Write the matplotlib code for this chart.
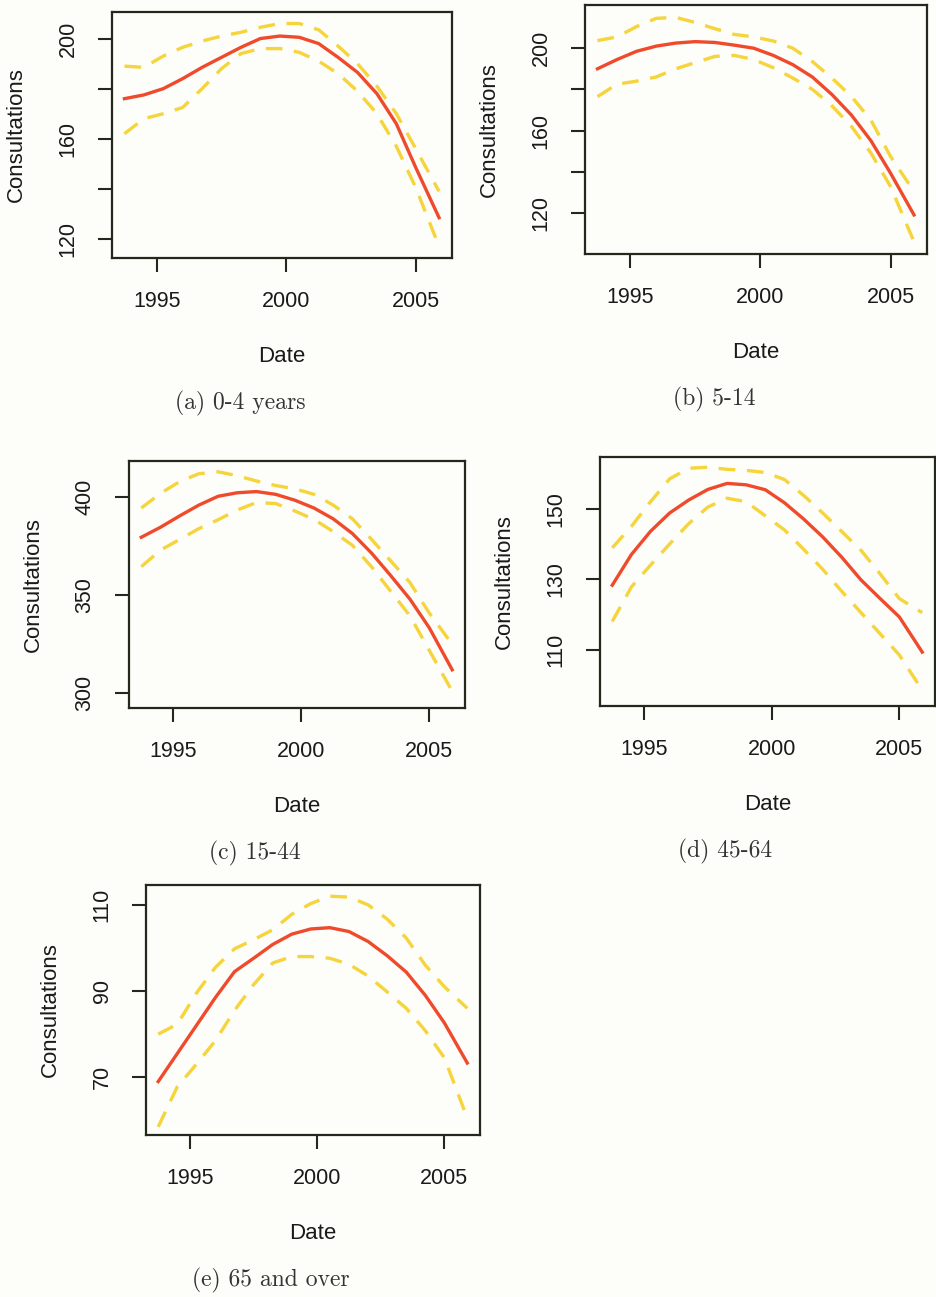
import matplotlib
matplotlib.use("Agg")
import matplotlib.pyplot as plt

years = [1993.75, 1994.5, 1995.25, 1996.0, 1996.75, 1997.5, 1998.25, 1999.0, 1999.75,
         2000.5, 2001.25, 2002.0, 2002.75, 2003.5, 2004.25, 2005.0, 2005.9]

# (a) 0-4 years
a_fit = [176, 177.5, 180, 184, 188.5, 192.5, 196.5, 200, 201, 200.5, 198, 192.5, 186.5, 178, 166, 148.5, 128.5]
a_up = [189, 188.5, 193, 196.5, 199, 201, 202.5, 204.5, 206, 206, 203.5, 197, 190, 181, 170, 156, 139]
a_lo = [162, 168, 170, 172.5, 180, 188, 194, 196, 196, 194.5, 191, 186, 179, 170, 157, 140.5, 117]

# (b) 5-14
b_fit = [190, 194.5, 198.5, 201, 202.5, 203.2, 202.8, 201.5, 200, 196.5, 192, 186, 177.5, 167.5, 155, 139.3, 119]
b_up = [203.7, 205.5, 210.5, 214.5, 215, 212.5, 209.5, 206.7, 205.5, 203.5, 200, 193.5, 185.5, 176.5, 165, 147.4, 130.4]
b_lo = [176.5, 182.5, 184, 186, 190, 193, 196, 196.5, 194.5, 190.5, 185.5, 180, 172, 162, 149, 132.8, 106]

# (c) 15-44
c_fit = [379.6, 384.7, 390.5, 396, 400.5, 402.3, 402.9, 401.5, 398.5, 394.5, 389, 381.5, 371.5, 360, 348, 333.5, 312]
c_up = [394.5, 402, 408, 412, 413, 411, 408.3, 406, 404.3, 401.5, 396, 389, 378.5, 367.5, 356.5, 341, 325]
c_lo = [364.6, 373, 378.5, 384, 388.5, 393.5, 397.3, 396.8, 393, 388.7, 382.5, 375.5, 364.5, 352, 339.5, 322, 301]

# (d) 45-64
d_fit = [128.3, 137, 143.6, 148.8, 152.5, 155.5, 157.2, 156.8, 155.4, 151.7, 147.1, 142, 136.2, 129.8, 124.5, 119.3, 109.3]
d_up = [138.9, 145, 152, 158.5, 161.5, 161.8, 161.2, 160.9, 160.3, 158.3, 153.8, 148.8, 143.5, 138.2, 131.5, 124.5, 120.5]
d_lo = [118, 127.8, 134, 140, 145.8, 150.5, 153, 152, 148, 144, 138.5, 132.8, 126.5, 120.5, 114.5, 108.5, 98.5]

# (e) 65 and over
e_fit = [69, 75.5, 82, 88.5, 94.5, 97.6, 100.8, 103.2, 104.4, 104.7, 103.8, 101.5, 98.2, 94.4, 89, 82.6, 73.3]
e_up = [80, 82.3, 89.5, 95.5, 99.8, 101.9, 104.2, 107.8, 110.3, 112, 111.8, 110, 106.7, 102.3, 96, 91, 86]
e_lo = [58.5, 67.8, 73, 78.5, 85.5, 91.5, 96.5, 98, 98, 97.6, 96.2, 93.5, 89.8, 86, 80.8, 74.5, 60.5]

x_ticks = [1995, 2000, 2005]
x_ticklabels = ["1995", "2000", "2005"]

a_yticks = [120, 140, 160, 180, 200]
a_yticklabels = ["120", "", "160", "", "200"]
b_yticks = [120, 140, 160, 180, 200]
b_yticklabels = ["120", "", "160", "", "200"]
c_yticks = [300, 350, 400]
c_yticklabels = ["300", "350", "400"]
d_yticks = [110, 130, 150]
d_yticklabels = ["110", "130", "150"]
e_yticks = [70, 90, 110]
e_yticklabels = ["70", "90", "110"]

captions = ["(a) 0-4 years", "(b) 5-14", "(c) 15-44", "(d) 45-64", "(e) 65 and over"]

W, H = 936, 1297
fig = plt.figure(figsize=(W / 100, H / 100), dpi=100)
fig.patch.set_facecolor("#fdfdf9")

RED = "#f04a2c"
YEL = "#f6d43c"
BOX = "#24281c"

# (left, top, right, bottom) pixel boxes
panels = [
    ((112, 12, 452, 258), (112.4, 210.6), a_fit, a_up, a_lo, a_yticks, a_yticklabels, captions[0]),
    ((585, 5, 927, 254), (100.0, 221.0), b_fit, b_up, b_lo, b_yticks, b_yticklabels, captions[1]),
    ((129, 461, 465, 708), (292.5, 418.5), c_fit, c_up, c_lo, c_yticks, c_yticklabels, captions[2]),
    ((600, 457, 935, 706), (94.0, 164.7), d_fit, d_up, d_lo, d_yticks, d_yticklabels, captions[3]),
    ((146, 885, 480, 1135), (56.6, 114.6), e_fit, e_up, e_lo, e_yticks, e_yticklabels, captions[4]),
]

font = ["Liberation Sans", "DejaVu Sans"]
for (l, t, r, b), ylim, fit, up, lo, yt, ytl, cap in panels:
    w, h = r - l, b - t
    ax = fig.add_axes([l / W, 1 - b / H, w / W, h / H])
    ax.set_facecolor("#fdfdf9")
    ax.plot(years, up, color=YEL, lw=2.4, dashes=(5, 3.5))
    ax.plot(years, lo, color=YEL, lw=2.4, dashes=(5, 3.5))
    ax.plot(years, fit, color=RED, lw=2.4)
    ax.set_xlim(1993.27, 2006.4)
    ax.set_ylim(*ylim)
    ax.set_xticks(x_ticks)
    ax.set_xticklabels(x_ticklabels, fontsize=15.5, family=font, color="#1a1a1a")
    ax.set_yticks(yt)
    ax.set_yticklabels(ytl, fontsize=15.5, family=font, color="#1a1a1a", rotation=90, va="center")
    ax.tick_params(axis="both", length=10, width=1.5, color=BOX, pad=14)
    for s in ax.spines.values():
        s.set_color(BOX)
        s.set_linewidth(1.6)
    ax.set_xlabel("Date", fontsize=16, family=font, color="#1a1a1a", labelpad=24)
    ax.set_ylabel("Consultations", fontsize=16, family=font, color="#1a1a1a", labelpad=22)
    ax.text(0.5 - 42 / w, 1 - (145 + h) / h, cap, transform=ax.transAxes, ha="center", va="center",
            fontsize=17, family=["cmr10", "DejaVu Serif"], color="#333333")

fig.savefig("out.png", dpi=100, facecolor=fig.get_facecolor())
